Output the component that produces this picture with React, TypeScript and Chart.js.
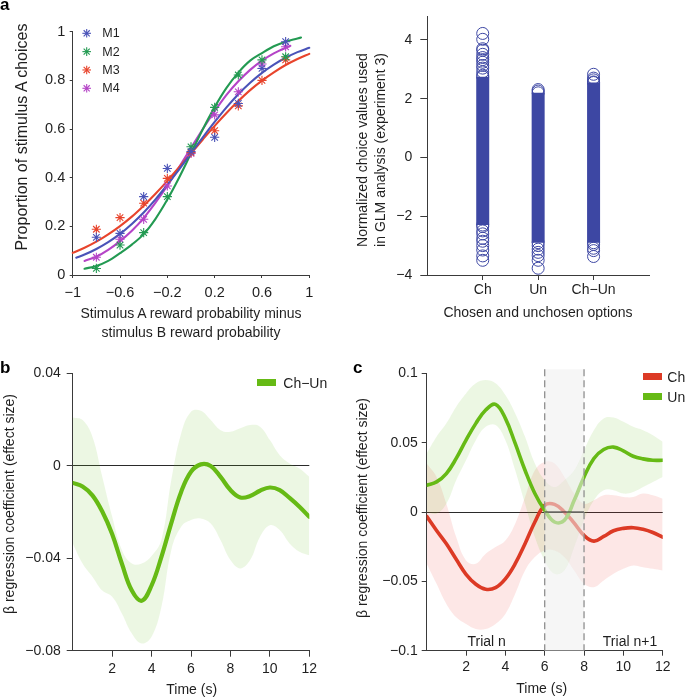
import React, { useEffect, useRef } from 'react';
import { Chart, registerables } from 'chart.js';
Chart.register(...registerables);

const FONT = '"Liberation Sans", Arial, Helvetica, sans-serif';
const TEXT = '#1f1f1f';
const AXIS = '#3a3a3a';

// ---------- Panel a (left): psychometric curves ----------
const PROB_X = [-0.8, -0.6, -0.4, -0.2, 0, 0.2, 0.4, 0.6, 0.8];
const M1_PTS = [0.155, 0.171, 0.322, 0.438, 0.507, 0.566, 0.705, 0.849, 0.959];
const M2_PTS = [0.027, 0.123, 0.174, 0.322, 0.527, 0.689, 0.822, 0.884, 0.897];
const M3_PTS = [0.188, 0.236, 0.295, 0.397, 0.503, 0.593, 0.695, 0.8, 0.884];
const M4_PTS = [0.073, 0.147, 0.229, 0.366, 0.5, 0.658, 0.753, 0.867, 0.938];

const M1_FIT_X = [-0.97, -0.9, -0.8, -0.7, -0.6, -0.5, -0.4, -0.3, -0.2, -0.1, 0, 0.1, 0.2, 0.3, 0.4, 0.5, 0.6, 0.7, 0.8, 0.9, 1.0];
const M1_FIT = [0.071, 0.084, 0.107, 0.135, 0.169, 0.21, 0.257, 0.311, 0.371, 0.434, 0.5, 0.566, 0.629, 0.689, 0.743, 0.79, 0.831, 0.865, 0.893, 0.916, 0.934];
const M2_FIT_X = [-0.9, -0.8, -0.7, -0.6, -0.5, -0.4, -0.3, -0.2, -0.1, 0, 0.1, 0.2, 0.3, 0.4, 0.5, 0.6, 0.7, 0.8, 0.9, 0.93];
const M2_FIT = [0.026, 0.037, 0.058, 0.09, 0.125, 0.168, 0.231, 0.31, 0.401, 0.5, 0.599, 0.69, 0.769, 0.832, 0.881, 0.912, 0.94, 0.959, 0.972, 0.976];
const M3_FIT_X = [-1, -0.9, -0.8, -0.7, -0.6, -0.5, -0.4, -0.3, -0.2, -0.1, 0, 0.1, 0.2, 0.3, 0.4, 0.5, 0.6, 0.7, 0.8, 0.9, 1.0];
const M3_FIT = [0.091, 0.112, 0.137, 0.167, 0.201, 0.24, 0.285, 0.334, 0.387, 0.443, 0.5, 0.557, 0.613, 0.666, 0.715, 0.76, 0.799, 0.833, 0.863, 0.888, 0.909];
const M4_FIT_X = [-0.9, -0.8, -0.7, -0.6, -0.5, -0.4, -0.3, -0.2, -0.1, 0, 0.1, 0.2, 0.3, 0.4, 0.5, 0.6, 0.7, 0.8, 0.84];
const M4_FIT = [0.058, 0.075, 0.103, 0.139, 0.182, 0.234, 0.297, 0.367, 0.444, 0.522, 0.6, 0.673, 0.74, 0.796, 0.843, 0.881, 0.911, 0.934, 0.942];

const M_LABELS = ['M1', 'M2', 'M3', 'M4'];
const M_COLORS = ['#4a53b8', '#239a52', '#e8442c', '#b544c7'];
const A_XTICKS = [-1, -0.6, -0.2, 0.2, 0.6, 1];
const A_YTICKS = [0, 0.2, 0.4, 0.6, 0.8, 1];

// ---------- Panel a (right): normalized choice values ----------
const CATEGORIES = ['Ch', 'Un', 'Ch−Un'];
const CH_CORE = [-2.3, 2.75];
const UN_CORE = [-2.9, 2.2];
const CHUN_CORE = [-2.9, 2.55];
const CH_VALUES = [4.22, 4.02, 3.7, 3.65, 3.51, 3.4, 3.33, 3.24, 3.13, 3.04, 2.91, 2.8, 2.75, -2.3, -2.35, -2.5, -2.6, -2.75, -2.85, -3.0, -3.15, -3.35, -3.5];
const UN_VALUES = [2.31, 2.26, 2.2, -2.9, -3.0, -3.12, -3.23, -3.34, -3.5, -3.77];
const CHUN_VALUES = [2.83, 2.7, 2.64, 2.57, 2.55, -2.9, -2.96, -3.09, -3.17, -3.37];
const A2_YTICKS = [-4, -2, 0, 2, 4];

// ---------- Panels b and c: time courses ----------
const TIME = [0, 0.5, 1, 1.5, 2, 2.5, 3, 3.5, 4, 4.5, 5, 5.5, 6, 6.5, 7, 7.5, 8, 8.5, 9, 9.5, 10, 10.5, 11, 11.5, 12];
const TIME_TICKS = [2, 4, 6, 8, 10, 12];

const B_MEAN = [-0.0074, -0.009, -0.0128, -0.0198, -0.0295, -0.0425, -0.054, -0.0584, -0.0518, -0.0394, -0.0248, -0.0113, -0.0026, 0.0006, -0.0001, -0.0048, -0.0105, -0.0137, -0.0131, -0.0108, -0.0094, -0.0105, -0.0139, -0.0177, -0.0221];
const B_UPPER = [0.0209, 0.0198, 0.0126, -0.0048, -0.022, -0.0365, -0.0423, -0.0423, -0.039, -0.032, -0.0062, 0.014, 0.0234, 0.0238, 0.0198, 0.0154, 0.0147, 0.0162, 0.0176, 0.0169, 0.0111, 0.0046, 0.001, -0.0012, -0.0048];
const B_LOWER = [-0.0336, -0.0423, -0.048, -0.054, -0.0567, -0.064, -0.0726, -0.0769, -0.074, -0.061, -0.0365, -0.0264, -0.0235, -0.0228, -0.025, -0.0322, -0.0408, -0.0444, -0.0408, -0.0307, -0.0257, -0.0278, -0.0336, -0.0372, -0.0387];
const B_YTICKS = [-0.08, -0.04, 0, 0.04];

const UN_MEAN = [0.0193, 0.0217, 0.0277, 0.0386, 0.0518, 0.0639, 0.0735, 0.0776, 0.0675, 0.0494, 0.0301, 0.0133, 0.0012, -0.0072, -0.006, 0.0084, 0.0253, 0.0386, 0.0451, 0.0468, 0.0441, 0.0402, 0.0383, 0.0373, 0.0373];
const UN_UPPER = [0.0422, 0.0542, 0.0639, 0.0759, 0.0855, 0.0928, 0.0952, 0.0928, 0.0843, 0.0711, 0.0542, 0.0349, 0.0229, 0.018, 0.0229, 0.0301, 0.0446, 0.059, 0.0675, 0.0682, 0.065, 0.0614, 0.059, 0.0554, 0.0506];
const UN_LOWER = [0.0, -0.0012, 0.006, 0.0229, 0.0373, 0.0518, 0.0614, 0.0627, 0.0518, 0.0301, 0.006, -0.0181, -0.0349, -0.0446, -0.0422, -0.0253, -0.006, 0.0084, 0.0157, 0.0157, 0.0133, 0.0145, 0.018, 0.0217, 0.0253];
const CH_MEAN = [-0.0031, -0.0133, -0.0229, -0.0341, -0.0449, -0.0521, -0.0557, -0.0545, -0.0482, -0.0373, -0.0229, -0.0072, 0.0048, 0.0055, 0.0, -0.008, -0.0169, -0.021, -0.0176, -0.0135, -0.0118, -0.0113, -0.0125, -0.0148, -0.0181];
const CH_UPPER = [0.0349, 0.0253, 0.006, -0.0181, -0.0349, -0.0373, -0.0301, -0.0253, -0.0205, -0.0084, 0.0108, 0.0301, 0.0361, 0.0349, 0.0253, 0.0133, 0.006, 0.0084, 0.012, 0.012, 0.0108, 0.0108, 0.0133, 0.012, 0.0096];
const CH_LOWER = [-0.0373, -0.0518, -0.0663, -0.0759, -0.0807, -0.0843, -0.0843, -0.0807, -0.0735, -0.059, -0.0422, -0.0325, -0.0277, -0.0277, -0.0325, -0.0422, -0.0518, -0.0542, -0.0494, -0.0446, -0.041, -0.0386, -0.0398, -0.041, -0.0422];
const C_YTICKS = [-0.1, -0.05, 0, 0.05, 0.1];
const SHADE_RANGE = [6, 8];

const GREEN = '#66ba15';
const GREEN_BAND = 'rgba(112,196,40,0.13)';
const RED = '#dc3a25';
const RED_BAND = 'rgba(236,72,62,0.13)';
const DOT_BLUE = '#3d47a3';

const zip = (xs: number[], ys: number[]) => xs.map((x, i) => ({ x, y: ys[i] }));
const fmt = (v: number) => {
  const r = Math.round(v * 10000) / 10000;
  return r < 0 ? '−' + String(-r) : String(r);
};

function axis(opts: any) {
  const { ticksAt, tickLen, pad, size, fitW, fitH, zeroLine, labels, min, max } = opts;
  return {
    type: 'linear',
    min,
    max,
    afterBuildTicks: (s: any) => {
      s.ticks = ticksAt.map((v: number) => ({ value: v }));
    },
    afterFit: (s: any) => {
      if (fitW !== undefined) s.width = fitW;
      if (fitH !== undefined) s.height = fitH;
    },
    ticks: {
      autoSkip: false,
      maxRotation: 0,
      padding: pad,
      color: TEXT,
      font: { family: FONT, size },
      callback: (v: number) => (labels ? labels[Math.round(v) - 1] : fmt(v)),
    },
    grid: {
      display: true,
      drawOnChartArea: !!zeroLine,
      color: (c: any) => (zeroLine && c.tick && Math.abs(c.tick.value) < 1e-9 ? '#2a2a2a' : 'rgba(0,0,0,0)'),
      lineWidth: 1,
      drawTicks: true,
      tickLength: tickLen,
      tickColor: AXIS,
      tickWidth: 1,
    },
    border: { display: true, color: AXIS, width: 1 },
  };
}

const baseOptions = (padding: any, scales: any, extra: any = {}) => ({
  responsive: false,
  animation: false,
  events: [],
  layout: { padding },
  plugins: { legend: { display: false }, tooltip: { enabled: false }, ...extra },
  scales,
});

const starLegend = {
  id: 'starLegend',
  afterDraw(chart: any) {
    const ctx = chart.ctx;
    M_COLORS.forEach((c, i) => {
      const cx = 86.7;
      const cy = 33.3 + i * 18.33;
      const r = 4.3;
      ctx.save();
      ctx.strokeStyle = c;
      ctx.lineWidth = 1.1;
      for (let k = 0; k < 4; k++) {
        const a = (k * Math.PI) / 4;
        ctx.beginPath();
        ctx.moveTo(cx - r * Math.cos(a), cy - r * Math.sin(a));
        ctx.lineTo(cx + r * Math.cos(a), cy + r * Math.sin(a));
        ctx.stroke();
      }
      ctx.restore();
    });
  },
};

const shadePlugin = {
  id: 'shadeRegion',
  afterDatasetsDraw(chart: any) {
    const { ctx, chartArea, scales } = chart;
    const x0 = scales.x.getPixelForValue(SHADE_RANGE[0]);
    const x1 = scales.x.getPixelForValue(SHADE_RANGE[1]);
    const top = chartArea.top - 4;
    const bottom = chartArea.bottom;
    const y0 = scales.y.getPixelForValue(0);
    ctx.save();
    ctx.fillStyle = 'rgba(238,238,238,0.55)';
    ctx.fillRect(x0, top, x1 - x0, bottom - top);
    ctx.strokeStyle = '#2a2a2a';
    ctx.lineWidth = 1;
    ctx.beginPath();
    ctx.moveTo(x0, y0);
    ctx.lineTo(x1, y0);
    ctx.stroke();
    ctx.setLineDash([7, 4]);
    ctx.strokeStyle = '#8f8f8f';
    ctx.lineWidth = 1.3;
    [x0, x1].forEach((xx) => {
      ctx.beginPath();
      ctx.moveTo(xx, top);
      ctx.lineTo(xx, bottom);
      ctx.stroke();
    });
    ctx.restore();
  },
};

const lineDs = (data: any, color: string, width: number, smooth: any = { tension: 0.4 }) => ({
  data,
  borderColor: color,
  borderWidth: width,
  pointRadius: 0,
  borderCapStyle: 'round',
  borderJoinStyle: 'round',
  fill: false,
  ...smooth,
});
const bandDs = (data: any, fill: any, bg: string) => ({
  data,
  borderColor: 'rgba(0,0,0,0)',
  borderWidth: 0,
  pointRadius: 0,
  tension: 0.4,
  fill,
  backgroundColor: bg,
});

function configA1() {
  const fits = [
    [M1_FIT_X, M1_FIT],
    [M2_FIT_X, M2_FIT],
    [M3_FIT_X, M3_FIT],
    [M4_FIT_X, M4_FIT],
  ];
  const pts = [M1_PTS, M2_PTS, M3_PTS, M4_PTS];
  const pointSets = pts.map((p, i) => ({
    data: zip(PROB_X, p),
    showLine: false,
    pointStyle: 'star',
    pointRadius: 4.6,
    pointBorderWidth: 1.1,
    borderColor: M_COLORS[i],
    backgroundColor: M_COLORS[i],
  }));
  const curveSets = fits.map((f, i) => ({
    ...lineDs(zip(f[0], f[1]), M_COLORS[i], 2.1, { cubicInterpolationMode: 'monotone' }),
    clip: false,
  }));
  return {
    type: 'line',
    data: { datasets: [...pointSets, ...curveSets] },
    options: baseOptions(
      { left: 0, top: 31.7, right: 30.7, bottom: 0 },
      {
        x: axis({ min: -1, max: 1, ticksAt: A_XTICKS, tickLen: 3, pad: 6, size: 14.5, fitH: 65 }),
        y: axis({ min: 0, max: 1, ticksAt: A_YTICKS, tickLen: 3, pad: 4.5, size: 14.5, fitW: 72.7 }),
      }
    ),
    plugins: [starLegend],
  };
}

function configA2() {
  const cores = [CH_CORE, UN_CORE, CHUN_CORE];
  const vals = [CH_VALUES, UN_VALUES, CHUN_VALUES];
  const coreSets = cores.map((c, i) => ({
    data: [
      { x: i + 1, y: c[0] },
      { x: i + 1, y: c[1] },
    ],
    borderColor: DOT_BLUE,
    borderWidth: 13,
    borderCapStyle: 'butt',
    pointRadius: 0,
    fill: false,
  }));
  const dotSets = vals.map((v, i) => ({
    data: v.map((y) => ({ x: i + 1, y })),
    showLine: false,
    pointStyle: 'circle',
    pointRadius: 6,
    pointBorderWidth: 1,
    borderColor: DOT_BLUE,
    backgroundColor: 'rgba(0,0,0,0)',
  }));
  return {
    type: 'line',
    data: { datasets: [...dotSets, ...coreSets] },
    options: baseOptions(
      { left: 0, top: 4.7, right: 36, bottom: 0 },
      {
        x: axis({ min: 0, max: 4, ticksAt: [1, 2, 3], labels: CATEGORIES, tickLen: 5, pad: 2, size: 14, fitH: 65 }),
        y: axis({ min: -4, max: 4.8, ticksAt: A2_YTICKS, tickLen: 7, pad: 8, size: 14, fitW: 87.3 }),
      }
    ),
  };
}

function configB() {
  return {
    type: 'line',
    data: {
      datasets: [
        lineDs(zip(TIME, B_MEAN), GREEN, 4.2),
        bandDs(zip(TIME, B_UPPER), '+1', GREEN_BAND),
        bandDs(zip(TIME, B_LOWER), false, GREEN_BAND),
      ],
    },
    options: baseOptions(
      { left: 0, top: 33.3, right: 30.7, bottom: 0 },
      {
        x: axis({ min: 0, max: 12, ticksAt: TIME_TICKS, tickLen: 6, pad: 4, size: 14, fitH: 46.3 }),
        y: axis({ min: -0.08, max: 0.04, ticksAt: B_YTICKS, tickLen: 6, pad: 6, size: 14, fitW: 72.7, zeroLine: true }),
      }
    ),
  };
}

function configC() {
  return {
    type: 'line',
    data: {
      datasets: [
        lineDs(zip(TIME, UN_MEAN), GREEN, 3.6),
        lineDs(zip(TIME, CH_MEAN), RED, 3.6),
        bandDs(zip(TIME, UN_UPPER), '+1', GREEN_BAND),
        bandDs(zip(TIME, UN_LOWER), false, GREEN_BAND),
        bandDs(zip(TIME, CH_UPPER), '+1', RED_BAND),
        bandDs(zip(TIME, CH_LOWER), false, RED_BAND),
      ],
    },
    options: baseOptions(
      { left: 0, top: 33.3, right: 22.3, bottom: 0 },
      {
        x: axis({ min: 0, max: 12, ticksAt: TIME_TICKS, tickLen: 5, pad: 3, size: 14, fitH: 46.3 }),
        y: axis({ min: -0.1, max: 0.1, ticksAt: C_YTICKS, tickLen: 5, pad: 4, size: 14, fitW: 86.7, zeroLine: true }),
      }
    ),
    plugins: [shadePlugin],
  };
}

function ChartCanvas(props: { left: number; top: number; width: number; height: number; make: () => any }) {
  const ref = useRef<HTMLCanvasElement>(null);
  useEffect(() => {
    const chart = new Chart(ref.current as HTMLCanvasElement, props.make());
    return () => chart.destroy();
  }, []);
  return (
    <canvas
      ref={ref}
      width={props.width}
      height={props.height}
      style={{ position: 'absolute', left: props.left, top: props.top, width: props.width, height: props.height }}
    />
  );
}

function Txt(props: { x: number; y: number; size?: number; rot?: number; bold?: boolean; anchor?: string; children: any }) {
  const { x, y, size = 14, rot = 0, bold = false, anchor = 'middle' } = props;
  const tx = anchor === 'start' ? '0%' : anchor === 'end' ? '-100%' : '-50%';
  return (
    <div
      style={{
        position: 'absolute',
        left: x,
        top: y,
        transform: `translate(${tx},-50%) rotate(${rot}deg)`,
        fontFamily: FONT,
        fontSize: size,
        fontWeight: bold ? 700 : 400,
        lineHeight: 1,
        whiteSpace: 'nowrap',
        color: TEXT,
      }}
    >
      {props.children}
    </div>
  );
}

function Box(props: { x: number; y: number; w: number; h: number; color: string }) {
  return <div style={{ position: 'absolute', left: props.x, top: props.y, width: props.w, height: props.h, background: props.color }} />;
}

export default function App() {
  return (
    <div style={{ position: 'absolute', left: 0, top: 0, width: 685, height: 697, overflow: 'hidden', background: '#fff' }}>
      <ChartCanvas left={0} top={0} width={340} height={340} make={configA1} />
      <ChartCanvas left={340} top={0} width={345} height={340} make={configA2} />
      <ChartCanvas left={0} top={340} width={340} height={357} make={configB} />
      <ChartCanvas left={340} top={340} width={345} height={357} make={configC} />

      {/* panel letters */}
      <div style={{ position: 'absolute', left: 0, top: -4.5, fontFamily: FONT, fontWeight: 700, fontSize: 17, lineHeight: 1, color: '#000' }}>a</div>
      <div style={{ position: 'absolute', left: 0, top: 358.6, fontFamily: FONT, fontWeight: 700, fontSize: 17, lineHeight: 1, color: '#000' }}>b</div>
      <div style={{ position: 'absolute', left: 353, top: 358.6, fontFamily: FONT, fontWeight: 700, fontSize: 17, lineHeight: 1, color: '#000' }}>c</div>

      {/* panel a left */}
      {M_LABELS.map((m, i) => (
        <Txt key={m} x={102.3} y={33.3 + i * 18.33} size={12.5} anchor="start">
          {m}
        </Txt>
      ))}
      <Txt x={22} y={136.7} size={16} rot={-90}>Proportion of stimulus A choices</Txt>
      <Txt x={191} y={313}>Stimulus A reward probability minus</Txt>
      <Txt x={191} y={331.5}>stimulus B reward probability</Txt>

      {/* panel a right */}
      <Txt x={362} y={150} rot={-90}>Normalized choice values used</Txt>
      <Txt x={380.3} y={150} rot={-90}>in GLM analysis (experiment 3)</Txt>
      <Txt x={538} y={311.7}>Chosen and unchosen options</Txt>

      {/* panel b */}
      <Txt x={9} y={504} rot={-90}>β regression coefficient (effect size)</Txt>
      <Txt x={191.7} y={689}>Time (s)</Txt>
      <Box x={256.7} y={379.3} w={19.3} h={6.8} color={GREEN} />
      <Txt x={283.3} y={383.3} anchor="start">Ch−Un</Txt>

      {/* panel c */}
      <Txt x={361.7} y={508} rot={-90}>β regression coefficient (effect size)</Txt>
      <Txt x={541.7} y={688.3}>Time (s)</Txt>
      <Txt x={486.7} y={640.7}>Trial n</Txt>
      <Txt x={630} y={640.7}>Trial n+1</Txt>
      <Box x={643.3} y={373.3} w={19} h={6.3} color={RED} />
      <Box x={643.3} y={393.3} w={19} h={6.3} color={GREEN} />
      <Txt x={667.3} y={376.7} anchor="start">Ch</Txt>
      <Txt x={667.3} y={396.7} anchor="start">Un</Txt>
    </div>
  );
}
